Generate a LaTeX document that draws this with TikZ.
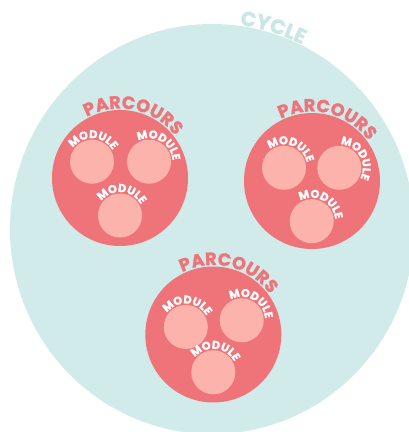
\documentclass[tikz,border=0pt]{standalone}
\usepackage{fontspec}
\setmainfont{Poppins}
\newfontfamily\heavy{Poppins Bold}[FakeBold=1.2]
\usetikzlibrary{decorations.text}
\definecolor{cyclebg}{HTML}{D0EBEA}
\definecolor{cycletxt}{HTML}{C8E7E6}
\definecolor{parc}{HTML}{EE7479}
\definecolor{modc}{HTML}{FBB3AB}
\newcommand\modfont{\heavy\fontsize{11.3}{11}\selectfont\color{white}}
\newcommand\parcfont{\heavy\fontsize{17.8}{17}\selectfont\color{parc}}
\newcommand\cyclefont{\heavy\fontsize{20.5}{19}\selectfont\color{cycletxt}}
% module: x, y, label angle
\newcommand\mymodule[3]{%
  \fill[modc] (#1,#2) circle[radius=22];
  \path[decorate,decoration={text along path,text align=center,text={|\modfont|MODULE}}]
    (#1,#2) ++({#3+85}:23.5) arc[start angle=#3+85,end angle=#3-85,radius=23.5];
}
% parcours: x, y, label angle
\newcommand\myparcours[3]{%
  \fill[parc] (#1,#2) circle[radius=68];
  \path[decorate,decoration={text along path,text align=center,text={|\parcfont|PARCOURS}}]
    (#1,#2) ++({#3+70}:69.5) arc[start angle=#3+70,end angle=#3-70,radius=69.5];
}
\begin{document}
\begin{tikzpicture}[x=1pt,y=1pt]
\useasboundingbox (0,0) rectangle (409,432);
\clip (0,0) rectangle (409,432);
\fill[cyclebg] (212,203) ellipse[x radius=202,y radius=205];
\path[decorate,decoration={text along path,text align=center,text={|\cyclefont|CYCLE}}]
  (212,203) ++(113:{203} and {206}) arc[start angle=113,end angle=33,x radius=203,y radius=206];
% parcours 1 (left)
\myparcours{120}{254}{78}
\mymodule{92}{270.3}{87}
\mymodule{149}{270.3}{60}
\mymodule{120}{216.5}{85}
% parcours 2 (right)
\myparcours{312}{251}{76}
\mymodule{284}{264.2}{70}
\mymodule{339.3}{264.2}{30}
\mymodule{311.7}{210.8}{62}
% parcours 3 (bottom)
\myparcours{213.3}{97.5}{76}
\mymodule{185.8}{105}{86}
\mymodule{241.7}{111.7}{61}
\mymodule{213.3}{59.7}{84}
\end{tikzpicture}
\end{document}
